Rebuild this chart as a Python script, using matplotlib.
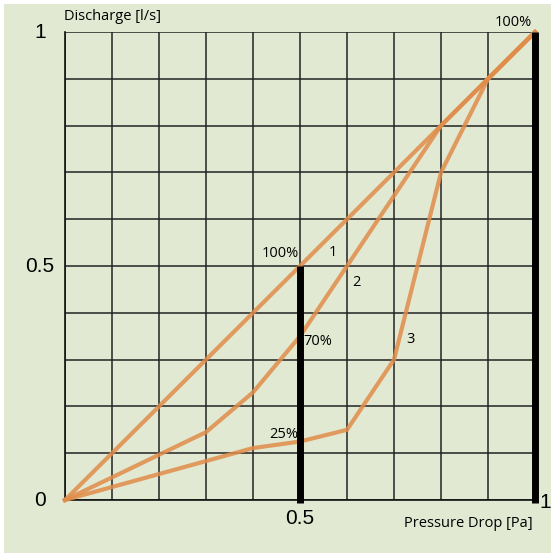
import numpy as np
import matplotlib.pyplot as plt
from matplotlib.patches import Rectangle

# pressure drop (fraction) and discharge (fraction) for the three valve curves
curve1_x = [0.0, 0.5, 0.8, 0.9, 1.0]
curve1_y = [0.0, 0.5, 0.8, 0.9, 1.0]
curve2_x = [0.0, 0.3, 0.4, 0.5, 0.6, 0.8, 0.9, 1.0]
curve2_y = [0.0, 0.145, 0.23, 0.35, 0.5, 0.8, 0.9, 1.0]
curve3_x = [0.0, 0.4, 0.5, 0.6, 0.7, 0.8, 0.9, 1.0]
curve3_y = [0.0, 0.111, 0.125, 0.15, 0.3, 0.7, 0.9, 1.0]

curve_labels = ["1", "2", "3"]
curve_label_pos = [(0.57, 0.528), (0.62, 0.464), (0.736, 0.344)]
pct_labels = ["100%", "70%", "25%", "100%"]
pct_label_pos = [(0.497, 0.526), (0.508, 0.338), (0.497, 0.141), (0.994, 1.02)]

bg = "#e2e9d3"
orange = "#e08d4a"

fig = plt.figure(figsize=(5.54, 5.57), dpi=100, facecolor="white")
fig.patches.append(Rectangle((4 / 554, 4 / 557), 547 / 554, 549 / 557,
                             transform=fig.transFigure, facecolor=bg,
                             edgecolor="none", zorder=-10))
ax = fig.add_axes([0.1173, 0.1023, 0.8484, 0.8402])
ax.set_facecolor(bg)

ax.set_xlim(0, 1)
ax.set_ylim(0, 1)
ax.set_xticks(np.arange(0, 1.01, 0.1), minor=True)
ax.set_yticks(np.arange(0, 1.01, 0.1), minor=True)
ax.set_xticks([])
ax.set_yticks([])
ax.grid(which="minor", color="#222222", lw=1.1)
ax.tick_params(which="both", length=0)
for s in ["top", "right"]:
    ax.spines[s].set_visible(False)
for s in ["left", "bottom"]:
    ax.spines[s].set_color("#111111")
    ax.spines[s].set_linewidth(1.2)

for xs, ys in [(curve1_x, curve1_y), (curve2_x, curve2_y), (curve3_x, curve3_y)]:
    ax.plot(xs, ys, color=orange, lw=3, alpha=0.85, solid_joinstyle="miter",
            zorder=3, clip_on=False)

# thick black bars
ax.plot([0.5, 0.5], [-0.006, 0.5], color="black", lw=5, solid_capstyle="butt", zorder=4, clip_on=False)
ax.plot([1.0, 1.0], [-0.006, 1.0], color="black", lw=5, solid_capstyle="butt", zorder=4, clip_on=False)

fnt = "Open Sans"
fs = 10.5
for t, (x, y) in zip(curve_labels, curve_label_pos):
    ax.text(x, y, t, fontsize=fs, family=fnt, ha="center", va="center", zorder=5)
ax.text(*pct_label_pos[0], pct_labels[0], fontsize=fs, family=fnt, ha="right", va="center", zorder=5)
ax.text(*pct_label_pos[1], pct_labels[1], fontsize=fs, family=fnt, ha="left", va="center", zorder=5)
ax.text(*pct_label_pos[2], pct_labels[2], fontsize=fs, family=fnt, ha="right", va="center", zorder=5)
ax.text(*pct_label_pos[3], pct_labels[3], fontsize=fs, family=fnt, ha="right", va="center", zorder=5)

# axis numbers
tkf = "Liberation Sans"
ax.text(-0.053, 1.0, "1", fontsize=15, family=tkf, ha="center", va="center")
ax.text(-0.053, 0.5, "0.5", fontsize=15, family=tkf, ha="center", va="center")
ax.text(-0.053, 0.0, "0", fontsize=15, family=tkf, ha="center", va="center")
ax.text(0.5, -0.04, "0.5", fontsize=15, family=tkf, ha="center", va="center")
ax.text(1.021, -0.006, "1", fontsize=15, family=tkf, ha="center", va="center")

ax.text(-0.003, 1.018, "Discharge [l/s]", fontsize=fs, family=fnt, ha="left", va="bottom")
ax.text(0.994, -0.05, "Pressure Drop [Pa]", fontsize=fs, family=fnt, ha="right", va="center")

fig.savefig("out.png", dpi=100, facecolor="white")
